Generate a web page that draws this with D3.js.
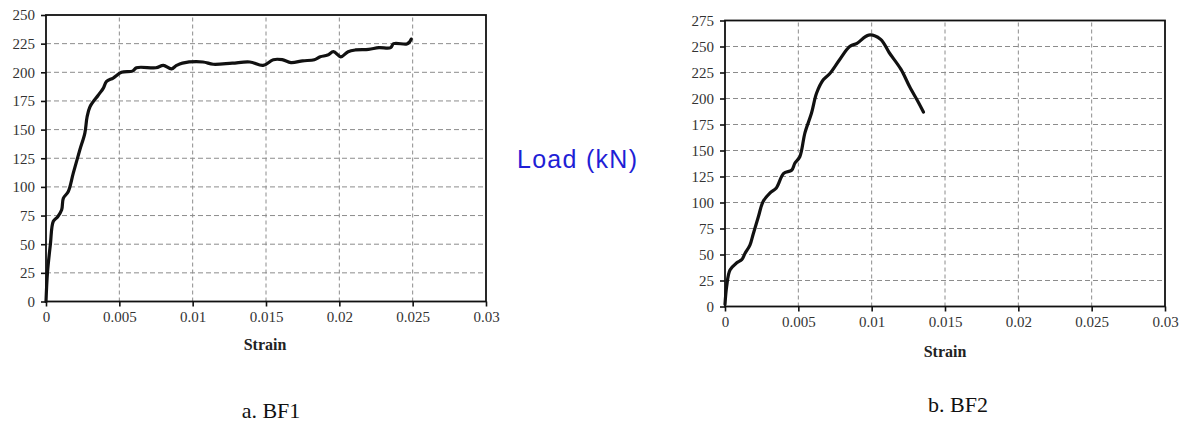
<!DOCTYPE html>
<html>
<head>
<meta charset="utf-8">
<script src="https://cdn.jsdelivr.net/npm/d3@7"></script>
<style>
  body { margin: 0; background: #fff; }
  svg { display: block; }
</style>
</head>
<body>
<svg width="1189" height="428"></svg>
<script>
// strain ticks shared by both panels
var strainTicks = [0, 0.005, 0.01, 0.015, 0.02, 0.025, 0.03];
var loadTicksBF1 = [0, 25, 50, 75, 100, 125, 150, 175, 200, 225, 250];
var loadTicksBF2 = [0, 25, 50, 75, 100, 125, 150, 175, 200, 225, 250, 275];

// BF1 load-strain curve
var bf1Strain = [0, 0.0001, 0.0003, 0.0005, 0.0008, 0.00107, 0.00118, 0.00152, 0.00186, 0.0023, 0.00265, 0.0028, 0.003,
  0.00356, 0.0039, 0.00413, 0.00458, 0.00515, 0.0059, 0.00617, 0.0075, 0.008, 0.00855, 0.0089, 0.0093, 0.0107,
  0.0114, 0.0127, 0.0139, 0.0148, 0.0155, 0.0161, 0.0167, 0.0175, 0.0183, 0.0187, 0.0192, 0.0196, 0.0201,
  0.0206, 0.0211, 0.022, 0.0227, 0.0235, 0.0237, 0.0246, 0.0248, 0.0249];
var bf1Load = [0, 25, 50, 70, 74, 80, 90, 96, 112, 132, 147, 161, 170,
  180, 186, 192, 195, 200, 201, 204, 204, 206, 203, 206, 208, 209,
  207, 208, 209, 206, 211, 211, 208.5, 210, 211, 213.5, 215, 218, 213.5,
  218, 219.5, 220, 221.5, 221.5, 225, 224.7, 226.7, 229];

// BF2 load-strain curve
var bf2Strain = [0, 0.00011, 0.00034, 0.0008, 0.00114, 0.00136, 0.0017, 0.00193, 0.00227, 0.0026, 0.00306, 0.0035,
  0.004, 0.00454, 0.00477, 0.0051, 0.00545, 0.0059, 0.00624, 0.0067, 0.00715, 0.0078, 0.0085, 0.009,
  0.0098, 0.0106, 0.0112, 0.012, 0.0126, 0.0132, 0.01353];
var bf2Load = [2, 19, 35, 42, 45, 51, 59, 70, 86, 101, 109, 114,
  128, 131, 138, 144, 167, 186, 205, 218, 224, 237, 250, 253,
  261, 257, 244, 228, 211, 196, 187];

var svg = d3.select('svg');
var serif = '"Liberation Serif", "DejaVu Serif", serif';

function drawPanel(opt) {
  var x = d3.scaleLinear().domain([0, 0.03]).range(opt.xr);
  var y = d3.scaleLinear().domain([0, opt.ymax]).range(opt.yr);
  var g = svg.append('g');

  // grid
  g.selectAll('line.vg').data(strainTicks.slice(1, -1)).enter().append('line')
    .attr('x1', function(d) { return x(d); }).attr('x2', function(d) { return x(d); })
    .attr('y1', opt.yr[0]).attr('y2', opt.yr[1])
    .style('stroke', '#8c8c8c').style('stroke-width', 1).style('stroke-dasharray', '4,3');
  g.selectAll('line.hg').data(opt.yticks.slice(1, -1)).enter().append('line')
    .attr('x1', opt.xr[0]).attr('x2', opt.xr[1])
    .attr('y1', function(d) { return y(d); }).attr('y2', function(d) { return y(d); })
    .style('stroke', '#8c8c8c').style('stroke-width', 1).style('stroke-dasharray', '5,3');

  // frame
  g.append('rect')
    .attr('x', opt.xr[0]).attr('y', opt.yr[1])
    .attr('width', opt.xr[1] - opt.xr[0]).attr('height', opt.yr[0] - opt.yr[1])
    .style('fill', 'none').style('stroke', '#111').style('stroke-width', 1.8);

  var xAxis = d3.axisBottom(x).tickValues(strainTicks).tickSize(5).tickPadding(5)
    .tickFormat(function(d) { return d === 0 ? '0' : String(+d.toFixed(3)); });
  var yAxis = d3.axisLeft(y).tickValues(opt.yticks).tickSize(5).tickPadding(6)
    .tickFormat(d3.format('d'));

  var gx = g.append('g').attr('transform', 'translate(0,' + opt.yr[0] + ')').call(xAxis);
  var gy = g.append('g').attr('transform', 'translate(' + opt.xr[0] + ',0)').call(yAxis);
  [gx, gy].forEach(function(a) {
    a.attr('font-family', serif).attr('font-size', 15);
    a.select('.domain').remove();
    a.selectAll('.tick line').style('stroke', '#111').style('stroke-width', 1.6);
    a.selectAll('.tick text').style('fill', '#333');
  });

  g.append('text').attr('x', opt.strainX).attr('y', opt.strainY)
    .attr('text-anchor', 'middle')
    .attr('font-family', serif).attr('font-weight', 'bold')
    .attr('font-size', 16).style('fill', '#222').text('Strain');

  var line = d3.line()
    .x(function(d) { return x(d[0]); })
    .y(function(d) { return y(d[1]); })
    .curve(d3.curveCatmullRom.alpha(0.5));
  g.append('path').datum(d3.zip(opt.sx, opt.sy))
    .attr('d', line)
    .style('fill', 'none').style('stroke', '#111').style('stroke-width', 3.2)
    .style('stroke-linejoin', 'round').style('stroke-linecap', 'round');

  g.append('text').attr('x', opt.capX).attr('y', opt.capY)
    .attr('text-anchor', 'middle')
    .attr('font-family', serif)
    .attr('font-size', 22).style('fill', '#111').text(opt.caption);
}

drawPanel({
  xr: [46, 486], yr: [301.5, 15], ymax: 250, yticks: loadTicksBF1,
  sx: bf1Strain, sy: bf1Load,
  strainX: 265, strainY: 350, caption: 'a. BF1', capX: 271, capY: 418
});
drawPanel({
  xr: [725, 1165], yr: [306.5, 20.5], ymax: 275, yticks: loadTicksBF2,
  sx: bf2Strain, sy: bf2Load,
  strainX: 945, strainY: 357, caption: 'b. BF2', capX: 958, capY: 412
});

svg.append('text').attr('x', 517).attr('y', 168)
  .attr('textLength', 120)
  .attr('font-family', '"Liberation Sans", Arial, sans-serif')
  .attr('font-size', 25).style('fill', '#1f1fd6').text('Load (kN)');
</script>
</body>
</html>
